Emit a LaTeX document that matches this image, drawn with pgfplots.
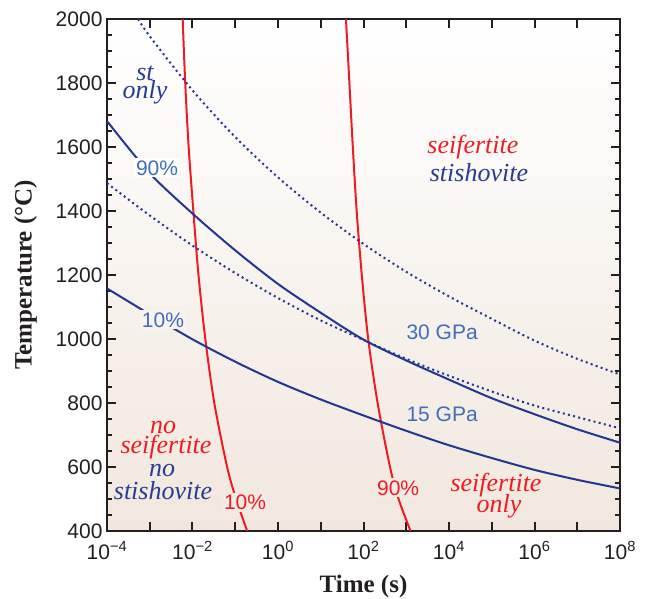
\documentclass[border=0pt]{standalone}
\usepackage{fontspec}
\setmainfont{Liberation Sans}
\newfontfamily\tnr{Liberation Serif}
\usepackage{pgfplots}
\pgfplotsset{compat=1.18}

\definecolor{redline}{RGB}{237,28,36}
\definecolor{blueline}{RGB}{35,55,145}
\definecolor{bluetext}{RGB}{66,110,185}
\definecolor{blueital}{RGB}{40,60,150}
\definecolor{bgbot}{RGB}{241,231,222}
\definecolor{axisgray}{RGB}{35,31,32}

\begin{document}
\begin{tikzpicture}
\begin{axis}[
  name=ax,
  scale only axis,
  width=513pt, height=512pt,
  xmin=-4, xmax=8, ymin=400, ymax=2000,
  xtick={-4,...,8},
  xticklabels={10\textsuperscript{−4},,10\textsuperscript{−2},,10\textsuperscript{0},,10\textsuperscript{2},,10\textsuperscript{4},,10\textsuperscript{6},,10\textsuperscript{8}},
  ytick={400,600,...,2000},
  minor y tick num=3,
  tick pos=both,
  tick align=inside,
  major tick length=9pt,
  minor tick length=5pt,
  every tick/.style={line width=2pt, axisgray},
  axis line style={line width=2.6pt, axisgray},
  /pgf/number format/assume math mode=true,
  /pgf/number format/1000 sep={},
  tick label style={font=\fontsize{21}{24}\selectfont, text=axisgray},
  xticklabel style={yshift=-7pt},
  yticklabel style={xshift=-1pt},
  xlabel={\tnr\bfseries Time (s)},
  ylabel={\tnr\bfseries Temperature (°C)},
  label style={font=\fontsize{25}{28}\selectfont, text=axisgray},
  xlabel style={yshift=-9pt},
  ylabel style={yshift=12pt},
  axis background/.style={top color=white, bottom color=bgbot},
]
% red: seifertite fraction 10% and 90%
\addplot[redline, line width=2pt, smooth] coordinates {
  (-2.23,2000) (-2.17,1800) (-2.09,1600) (-1.98,1400) (-1.86,1200)
  (-1.70,1000) (-1.49,800) (-1.19,600) (-0.98,500) (-0.72,400)};
\addplot[redline, line width=2pt, smooth] coordinates {
  (1.59,2000) (1.67,1800) (1.75,1600) (1.84,1400) (1.96,1200)
  (2.11,1000) (2.33,800) (2.62,600) (2.82,500) (3.10,400)};
% blue solid: 15 GPa (90% and 10%)
\addplot[blueline, line width=2pt, smooth] coordinates {
  (-4,1681) (-3,1518) (-2,1392) (-1,1277) (0,1172) (1,1082) (2,998)
  (3,933) (4,873) (5,815) (6,765) (7,718) (8,676)};
\addplot[blueline, line width=2pt, smooth] coordinates {
  (-4,1158) (-3,1077) (-2,999) (-1,929) (0,866) (1,811) (2,761)
  (3,713) (4,668) (5,628) (6,591) (7,560) (8,533)};
% blue dotted: 30 GPa (90% and 10%)
\addplot[blueline, line width=2pt, dash pattern=on 2pt off 3.3pt, smooth] coordinates {
  (-3.27,2000) (-3,1946) (-2,1777) (-1,1631) (0,1505) (1,1395) (2,1297)
  (3,1210) (4,1133) (5,1063) (6,995) (7,938) (8,889)};
\addplot[blueline, line width=2pt, dash pattern=on 2pt off 3.3pt, smooth] coordinates {
  (-4,1487) (-3,1386) (-2,1292) (-1,1206) (0,1128) (1,1058) (2,997)
  (3,938) (4,885) (5,836) (6,792) (7,756) (8,721)};

% curve labels
\node[font=\fontsize{21}{24}\selectfont, text=bluetext, fill=white, inner sep=2pt, anchor=base] at (axis cs:-2.83,1512) {90\%};
\node[font=\fontsize{21}{24}\selectfont, text=bluetext, fill=white!50!bgbot, inner sep=2pt, anchor=base] at (axis cs:-2.69,1037) {10\%};
\node[font=\fontsize{21}{24}\selectfont, text=redline, fill=white!15!bgbot, inner sep=2pt, anchor=base] at (axis cs:-0.77,466) {10\%};
\node[font=\fontsize{21}{24}\selectfont, text=redline, fill=white!15!bgbot, inner sep=2pt, anchor=base] at (axis cs:2.81,512) {90\%};
\node[font=\fontsize{21}{24}\selectfont, text=bluetext, anchor=base] at (axis cs:3.84,997) {30 GPa};
\node[font=\fontsize{21}{24}\selectfont, text=bluetext, anchor=base] at (axis cs:3.84,741) {15 GPa};

% field labels
\node[font=\fontsize{26}{28}\selectfont\tnr\itshape, text=blueital, anchor=base] at (axis cs:-3.11,1809) {st};
\node[font=\fontsize{26}{28}\selectfont\tnr\itshape, text=blueital, anchor=base] at (axis cs:-3.11,1753) {only};
\node[font=\fontsize{26}{28}\selectfont\tnr\itshape, text=redline, anchor=base] at (axis cs:4.56,1581) {seifertite};
\node[font=\fontsize{26}{28}\selectfont\tnr\itshape, text=blueital, anchor=base] at (axis cs:4.70,1491) {stishovite};
\node[font=\fontsize{26}{28}\selectfont\tnr\itshape, text=redline, anchor=base] at (axis cs:-2.69,706) {no};
\node[font=\fontsize{26}{28}\selectfont\tnr\itshape, text=redline, anchor=base] at (axis cs:-2.62,641) {seifertite};
\node[font=\fontsize{26}{28}\selectfont\tnr\itshape, text=blueital, anchor=base] at (axis cs:-2.71,569) {no};
\node[font=\fontsize{26}{28}\selectfont\tnr\itshape, text=blueital, anchor=base] at (axis cs:-2.69,497) {stishovite};
\node[font=\fontsize{26}{28}\selectfont\tnr\itshape, text=redline, anchor=base] at (axis cs:5.10,522) {seifertite};
\node[font=\fontsize{26}{28}\selectfont\tnr\itshape, text=redline, anchor=base] at (axis cs:5.17,459) {only};
\end{axis}
\pgfresetboundingbox
\path[use as bounding box] ([xshift=-107pt,yshift=-68pt]ax.south west) rectangle ([xshift=29pt,yshift=19pt]ax.north east);
\end{tikzpicture}
\end{document}
